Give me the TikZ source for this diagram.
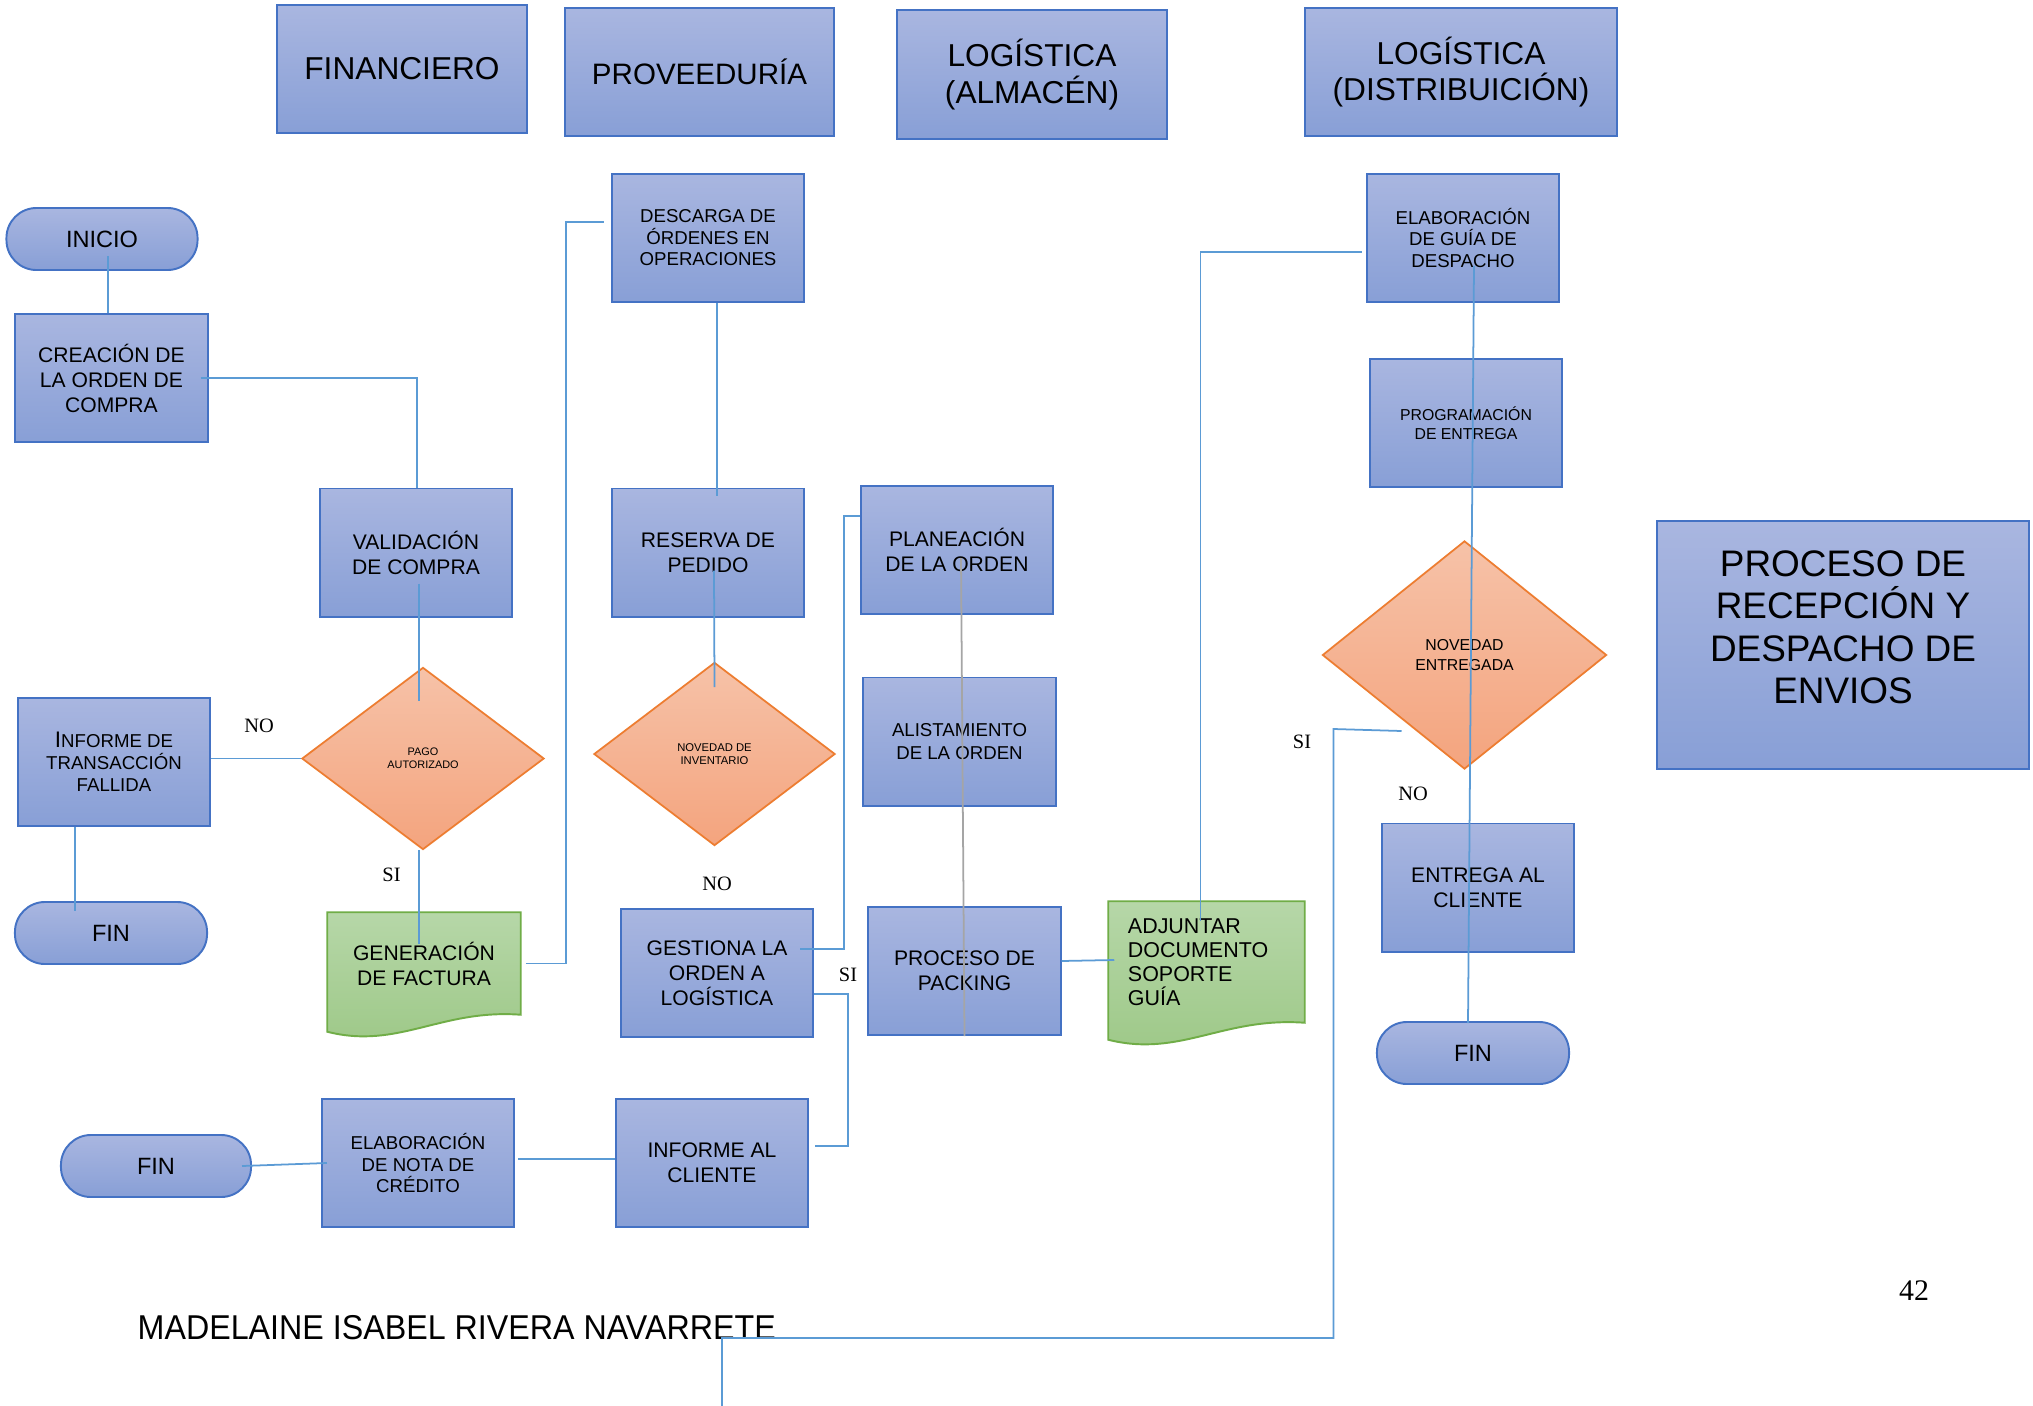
\documentclass[tikz,border=0pt]{standalone}
\usepackage{fontspec}
\setmainfont{Liberation Sans}
\newfontfamily\serifnote{Liberation Serif}
\newfontfamily\narrowname[FakeStretch=0.935]{Liberation Sans}
\usetikzlibrary{shapes.geometric,backgrounds}

\definecolor{BoxTop}{RGB}{169,182,224}
\definecolor{BoxBottom}{RGB}{136,159,214}
\definecolor{BoxLine}{RGB}{68,114,196}
\definecolor{DiaTop}{RGB}{246,194,168}
\definecolor{DiaBottom}{RGB}{244,164,126}
\definecolor{DiaLine}{RGB}{237,125,49}
\definecolor{DocTop}{RGB}{182,215,168}
\definecolor{DocBottom}{RGB}{157,200,135}
\definecolor{DocLine}{RGB}{112,173,71}
\definecolor{LinkBlue}{RGB}{91,155,213}
\definecolor{LinkGray}{RGB}{165,165,165}

\tikzset{
  ProcBox/.style={shape=rectangle, draw=BoxLine, line width=0.55pt,
    top color=BoxTop, bottom color=BoxBottom,
    minimum width=1.92cm, minimum height=1.28cm, inner sep=1pt,
    align=center, font=\fontsize{6}{7.1}\selectfont},
  HeadBox/.style={ProcBox, font=\fontsize{9}{10.3}\selectfont},
  StartEnd/.style={shape=rectangle, rounded corners=0.3cm, draw=BoxLine, line width=0.55pt,
    top color=BoxTop, bottom color=BoxBottom,
    minimum width=1.91cm, minimum height=0.62cm, inner sep=1pt,
    font=\fontsize{6.7}{8}\selectfont},
  DecisionBox/.style={shape=diamond, draw=DiaLine, line width=0.5pt,
    top color=DiaTop, bottom color=DiaBottom, inner sep=0pt, align=center},
  DocBox/.style={shape=rectangle, minimum width=1.92cm, minimum height=1.01cm,
    inner sep=1pt, align=center, font=\fontsize{6}{7.1}\selectfont},
  DocShade/.style={draw=DocLine, line width=0.55pt, top color=DocTop, bottom color=DocBottom},
  LinkLine/.style={draw=LinkBlue, line width=0.5pt},
  YesNo/.style={inner sep=0pt, font=\serifnote\fontsize{5.8}{7}\selectfont}
}

\begin{document}
\begin{tikzpicture}[x=0.01cm, y=-0.01cm]

\useasboundingbox (0,0) rectangle (2033,1406);
\begin{scope}[on background layer]
    \fill[white] (0,0) rectangle (2033,1406);
\end{scope}

% Column headers
\node (financiero) at (402,69) [HeadBox, minimum width=2.49cm] {FINANCIERO};
\node (proveeduria) at (699.5,72) [HeadBox, minimum width=2.68cm, font=\fontsize{8.4}{10}\selectfont] {PROVEEDURÍA};
\node (almacen) at (1032,74.5) [HeadBox, minimum width=2.70cm] {LOGÍSTICA\\(ALMACÉN)};
\node (distribucion) at (1461,72) [HeadBox, minimum width=3.11cm] {LOGÍSTICA\\(DISTRIBUICIÓN)};

% Financiero
\node (inicio) at (102,239) [StartEnd] {INICIO};
\node (creacion) at (111.5,378) [ProcBox] {CREACIÓN DE\\LA ORDEN DE\\COMPRA};
\node (validacion) at (416,552.5) [ProcBox] {VALIDACIÓN\\DE COMPRA};
\node (pago) at (423,758.5) [DecisionBox, minimum width=2.42cm, minimum height=1.82cm,
    font=\fontsize{3.1}{3.6}\selectfont] {PAGO\\AUTORIZADO};
\node (fallida) at (114,762) [ProcBox, font=\fontsize{5.3}{6.3}\selectfont]
    {{\fontsize{6.4}{6.3}\selectfont I}NFORME DE\\TRANSACCIÓN\\FALLIDA};
\node (fin1) at (111,933) [StartEnd, minimum width=1.92cm] {FIN};
\node (generacion) at (424,963.5) [DocBox] {GENERACIÓN\\DE FACTURA};
\node (nota) at (418,1163) [ProcBox, font=\fontsize{5.3}{6.1}\selectfont] {ELABORACIÓN\\DE NOTA DE\\CRÉDITO};
\node (fin2) at (156,1166) [StartEnd, minimum width=1.90cm] {FIN};

% Proveeduria
\node (descarga) at (708,238) [ProcBox, font=\fontsize{5.3}{6.1}\selectfont] {DESCARGA DE\\ÓRDENES EN\\OPERACIONES};
\node (reserva) at (708,552.5) [ProcBox] {RESERVA DE\\PEDIDO};
\node (inventario) at (714.5,754) [DecisionBox, minimum width=2.41cm, minimum height=1.83cm,
    font=\fontsize{3.2}{3.7}\selectfont] {NOVEDAD DE\\INVENTARIO};
\node (gestiona) at (717,973) [ProcBox] {GESTIONA LA\\ORDEN A\\LOGÍSTICA};
\node (informe) at (712,1163) [ProcBox] {INFORME AL\\CLIENTE};

% Logistica - almacen
\node (planeacion) at (957,550) [ProcBox] {PLANEACIÓN\\DE LA ORDEN};
\node (alistamiento) at (959.5,741.5) [ProcBox, font=\fontsize{5.3}{6.3}\selectfont] {ALISTAMIENTO\\DE LA ORDEN};
\node (packing) at (964.5,971) [ProcBox] {PROCESO DE\\PACKING};
\node (adjuntar) at (1206.5,962) [DocBox, minimum width=1.95cm, minimum height=1.20cm,
    text width=1.57cm, align=left, font=\fontsize{6.1}{6.8}\selectfont] {ADJUNTAR\\DOCUMENTO\\SOPORTE\\GUÍA};

% Logistica - distribucion
\node (guia) at (1463,238) [ProcBox, font=\fontsize{5.3}{6.1}\selectfont] {ELABORACIÓN\\DE GUÍA DE\\DESPACHO};
\node (programacion) at (1466,423) [ProcBox, font=\fontsize{4.5}{5.5}\selectfont] {PROGRAMACIÓN\\DE ENTREGA};
\node (entregada) at (1464.5,655) [DecisionBox, minimum width=2.84cm, minimum height=2.28cm,
    font=\fontsize{4.5}{5.5}\selectfont] {NOVEDAD\\ENTREGADA};
\node (entrega) at (1478,887.5) [ProcBox] {ENTREGA AL\\CLIENTE};
\node (fin3) at (1473,1053) [StartEnd, minimum width=1.92cm] {FIN};

\node (titulo) at (1843,645) [ProcBox, minimum width=3.72cm, minimum height=2.48cm,
    font=\fontsize{10.5}{12.1}\selectfont] {PROCESO DE\\RECEPCIÓN Y\\DESPACHO DE\\ENVIOS\\[-2pt]\mbox{}};

% Document shapes
\begin{scope}[on background layer]
    \shade[DocShade] (generacion.north west) -- (generacion.north east) -- (generacion.south east)
        .. controls +(-80,-6) and +(71,18) .. ([shift={(0,17)}]generacion.south west) -- cycle;
    \shade[DocShade] (adjuntar.north west) -- (adjuntar.north east) -- (adjuntar.south east)
        .. controls +(-82,-6) and +(72,18) .. ([shift={(0,17)}]adjuntar.south west) -- cycle;
\end{scope}

% Yes / no labels
\node (noPago) at (259,726) [YesNo] {NO};
\node (siPago) at (391.5,875) [YesNo] {SI};
\node (noInv) at (717,884) [YesNo] {NO};
\node (siInv) at (848,975) [YesNo] {SI};
\node (siEnt) at (1302,741.5) [YesNo] {SI};
\node (noEnt) at (1413,793.5) [YesNo] {NO};

\node (pagina) at (1914,1291) [inner sep=0pt, font=\serifnote\fontsize{8.5}{10}\selectfont] {42};
\node (autor) at (137,1328) [anchor=west, inner sep=0pt, font=\narrowname\fontsize{9.8}{11}\selectfont]
    {MADELAINE ISABEL RIVERA NAVARRETE};

\coordinate (salida) at (722,1406);

\begin{scope}[every edge/.style={LinkLine}]
    \path ([shift={(6,17)}]inicio.center) edge ([shift={(-3.5,0)}]creacion.north);
    \draw[LinkLine] ([shift={(-8,0)}]creacion.east) -| ([shift={(1,0)}]validacion.north);
    \path ([shift={(3,31)}]validacion.center) edge ([shift={(-4,-58)}]pago.center);
    \path (pago.west) edge (pago.west -| fallida.east);
    \path ([shift={(-39,0)}]fallida.south) edge ([shift={(-36,10)}]fin1.north);
    \path ([shift={(-4,0)}]pago.south) edge ([shift={(-5,-19.5)}]generacion.center);
    \draw[LinkLine] ([shift={(5,0)}]generacion.east) -- ([shift={(45,0)}]generacion.east)
        |- ([shift={(-7,-16)}]descarga.west);

    \path ([shift={(9,0)}]descarga.south) edge ([shift={(9,8.5)}]reserva.north);
    \path ([shift={(6,18)}]reserva.center) edge ([shift={(0,-67)}]inventario.center);
    \draw[LinkLine] ([shift={(83,-24)}]gestiona.center) -- ([shift={(127,-24)}]gestiona.center)
        |- ([shift={(0,-34)}]planeacion.west);
    \draw[LinkLine] ([shift={(0,21)}]gestiona.east) -- ([shift={(34,21)}]gestiona.east)
        |- ([shift={(6,-17)}]informe.east);
    \path ([shift={(0,-4)}]informe.west) edge ([shift={(3,-4)}]nota.east);
    \path ([shift={(6,0)}]nota.west) edge ([shift={(-10,0)}]fin2.east);

    \path ([shift={(4,8)}]planeacion.center) edge [draw=LinkGray] (packing.south);
    \path ([shift={(0,-10)}]packing.east) edge ([shift={(6,-2)}]adjuntar.west);
    \draw[LinkLine] ([shift={(-6,-41)}]adjuntar.center) |- ([shift={(-4,14)}]guia.west);

    \path ([shift={(11,28)}]guia.center) edge ([shift={(-5,2)}]fin3.north);
    \draw[LinkLine] ([shift={(-63,76)}]entregada.center) -- ([shift={(-131,74)}]entregada.center)
        |- ([shift={(0,-68)}]salida) -- (salida);
\end{scope}

\end{tikzpicture}
\end{document}
